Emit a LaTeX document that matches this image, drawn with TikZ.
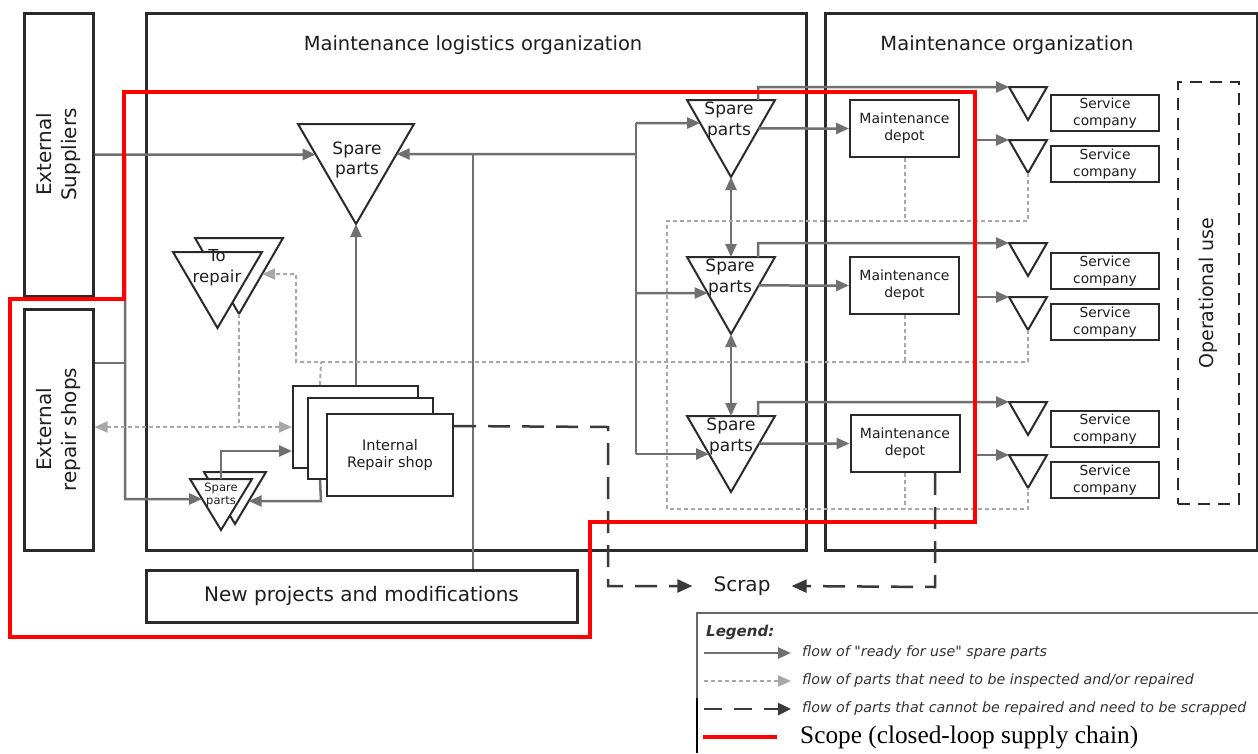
\documentclass[tikz,border=0pt]{standalone}
\usepackage{fontspec}
\setmainfont{DejaVu Sans}
\newfontfamily\scopefont{Liberation Serif}
\newfontfamily\legfont{DejaVu Sans}[Ligatures=ResetAll]
\usetikzlibrary{arrows.meta,calc}
\definecolor{boxc}{HTML}{2A2A2A}
\definecolor{flowc}{HTML}{707070}
\definecolor{inspc}{HTML}{A8A8A8}
\definecolor{scrapc}{HTML}{3A3A3A}
\definecolor{txtc}{HTML}{1F1F1F}
\definecolor{legc}{HTML}{333333}
\definecolor{scoper}{HTML}{FF0000}
\newcommand\fsz[2]{\fontsize{#1}{#2}\selectfont}
\newcommand\trimk[5]{%
  \coordinate (#1-l) at (#2,#4);
  \coordinate (#1-r) at (#3,#4);
  \coordinate (#1-b) at ({(#2+#3)/2},#5);
  \draw[tri] (#1-l) -- (#1-r) -- (#1-b) -- cycle;
}
\tikzset{
  bigbox/.style={draw=boxc, line width=3pt, inner sep=0pt, fill=white},
  smallbox/.style={draw=boxc, line width=2pt, inner sep=0pt, fill=white, text=txtc, align=center},
  tri/.style={draw=boxc, line width=2pt, fill=white, line join=miter},
  lbl/.style={text=txtc, align=center, inner sep=0pt},
  tip/.style={-{Triangle[length=13pt,width=11pt]}},
  flowline/.style={draw=flowc, line width=2.5pt},
  flow/.style={flowline, tip},
  flowdbl/.style={flowline, {Triangle[length=13pt,width=11pt]}-{Triangle[length=13pt,width=11pt]}},
  insp/.style={draw=inspc, line width=2pt, dash pattern=on 4pt off 3pt},
  inspar/.style={insp, -{Triangle[length=13pt,width=11pt]}},
  inspdbl/.style={insp, {Triangle[length=13pt,width=11pt]}-{Triangle[length=13pt,width=11pt]}},
  scrap/.style={draw=scrapc, line width=2.5pt, dash pattern=on 22pt off 12pt},
  scrapar/.style={scrap, -{Triangle[length=15pt,width=13pt]}},
  scope/.style={draw=scoper, line width=3.5pt, line join=miter},
  legtxt/.style={anchor=west, inner sep=0pt, text=legc, font=\legfont\fsz{14.2}{16}\itshape},
}
\begin{document}
\begin{tikzpicture}[x=1pt,y=-1pt]
\useasboundingbox (0,0) rectangle (1258,753);
\fill[white] (0,0) rectangle (1258,753);

% ---------- large boxes ----------
\node[bigbox, minimum width=69pt, minimum height=283pt] (sup) at (58.5,154.5) {};
\node[lbl, rotate=90, font=\fsz{20}{25}] (supt) at (sup) {External\\Suppliers};
\node[bigbox, minimum width=69pt, minimum height=241pt] (ers) at (58.5,429.5) {};
\node[lbl, rotate=90, font=\fsz{20}{25}] (erst) at (ers) {External\\repair shops};
\node[bigbox, minimum width=660pt, minimum height=537pt] (mlo) at (476,281.5) {};
\node[lbl, font=\fsz{19.5}{24}] (mlot) at (473,45) {Maintenance logistics organization};
\node[bigbox, minimum width=432pt, minimum height=537pt] (mo) at (1041,281.5) {};
\node[lbl, font=\fsz{19.5}{24}] (mot) at (1007,45) {Maintenance organization};
\node[bigbox, minimum width=431pt, minimum height=52pt, text=txtc, font=\fsz{20}{24}] (npm) at (361.5,596) {New projects and modifications};
\node[draw=boxc, line width=2pt, dash pattern=on 12pt off 8pt, minimum width=61pt, minimum height=422pt, inner sep=0pt] (ou) at (1208.5,293) {};
\node[lbl, rotate=90, font=\fsz{19}{24}] (out) at (ou) {Operational use};

% ---------- triangles ----------
\trimk{SP0}{298}{414}{124}{224}
\node[lbl, font=\fsz{17}{20}] (SP0t) at (357,160) {Spare\\parts};
\trimk{TRb}{195}{283}{238}{314}
\trimk{TRf}{173}{262}{252}{328}
\node[lbl, font=\fsz{16.5}{21}] (TRt) at (217,268) {To\\repair};
\trimk{SSb}{204}{266}{472}{524}
\trimk{SSf}{190}{252}{479}{530}
\node[lbl, font=\fsz{11.5}{13}] (SSt) at (221,495) {Spare\\parts};
\trimk{RS1}{687}{775}{100}{177}
\trimk{RS2}{687}{775}{257}{334}
\trimk{RS3}{687}{775}{416}{492}
\node[lbl, font=\fsz{17}{21}] (RS1t) at (729,120) {Spare\\parts};
\node[lbl, font=\fsz{17}{21}] (RS2t) at (730,277) {Spare\\parts};
\node[lbl, font=\fsz{17}{21}] (RS3t) at (731,436) {Spare\\parts};
\trimk{ST1}{1009}{1047}{87}{120}
\trimk{ST2}{1009}{1047}{140}{173}
\trimk{ST3}{1009}{1047}{243}{276}
\trimk{ST4}{1009}{1047}{297}{330}
\trimk{ST5}{1009}{1047}{402}{435}
\trimk{ST6}{1009}{1047}{455}{488}

% ---------- small boxes ----------
\node[smallbox, minimum width=125pt, minimum height=82pt] (rs1) at (355.5,427) {};
\node[smallbox, minimum width=125pt, minimum height=81pt] (rs2) at (370.5,438.5) {};
\node[smallbox, minimum width=126pt, minimum height=82pt, font=\fsz{14.5}{17}] (rs3) at (390,455) {Internal\\Repair shop};
\node[smallbox, minimum width=109pt, minimum height=57pt, font=\fsz{14}{17}] (dep1) at (904.5,128.5) {Maintenance\\depot};
\node[smallbox, minimum width=109pt, minimum height=57pt, font=\fsz{14}{17}] (dep2) at (904.5,285.5) {Maintenance\\depot};
\node[smallbox, minimum width=109pt, minimum height=57pt, font=\fsz{14}{17}] (dep3) at (905,443.5) {Maintenance\\depot};
\foreach \i/\y in {1/113,2/164,3/271,4/322,5/429,6/480}{
  \node[smallbox, minimum width=108pt, minimum height=36pt, font=\fsz{13.8}{17}] (sc\i) at (1105,\y) {Service\\company};
}

% ---------- helper coordinates ----------
\coordinate (dl1) at (0,221);
\coordinate (dl2) at (0,362);
\coordinate (dl3) at (0,509);
\coordinate (yss) at (0,451);
\coordinate (yer) at (0,363);
\coordinate (trk0) at (636,154);
\coordinate (trk1) at (636,123);
\coordinate (trk2) at (636,293);
\coordinate (trk3) at (636,454);
\coordinate (nj) at (473,154);
\coordinate (xj) at (125,154.5);

% ---------- ready-for-use flows ----------
\draw[flow] (sup.east) -- ($(SP0-l)!0.305!(SP0-b)$);
\draw[flow] (trk0) -- ($(SP0-r)!0.30!(SP0-b)$);
\draw[flowline] (nj |- npm.north) -- (nj);
\draw[flowline] (trk1) -- (trk3);
\draw[flow] (trk1) -- ($(RS1-l)!0.299!(RS1-b)$);
\draw[flow] (trk2) -- ($(RS2-l)!0.4675!(RS2-b)$);
\draw[flow] (trk3) -- ($(RS3-l)!0.5!(RS3-b)$);
\draw[flow] (SP0-b |- rs1.north) -- (SP0-b);
\draw[flowline] (ers.east |- yer) -- (xj |- yer);
\draw[flow] (xj) -- (125,499) -- ($(SSf-l)!0.392!(SSf-b)$);
\draw[flow] ($(SSf-l)!0.5!(SSf-r)$) -- (221,451) -- (rs1.west |- yss);
\draw[flow] ($(rs2.south west)+(13,0)$) -- (321,501) -- ($(SSb-r)!0.558!(SSb-b)$);
\draw[flowdbl] (RS1-b) -- ($(RS2-l)!0.5!(RS2-r)$);
\draw[flowdbl] (RS2-b) -- ($(RS3-l)!0.5!(RS3-r)$);
\draw[flow] ($(RS1-r)!0.37!(RS1-b)$) -- (dep1.west);
\draw[flow] ($(RS2-r)!0.37!(RS2-b)$) -- (dep2.west);
\draw[flow] ($(RS3-r)!0.362!(RS3-b)$) -- (dep3.west);
\draw[flow] ($(RS1-l)!0.807!(RS1-r)$) -- (758,87) -- (ST1-l);
\draw[flow] ($(RS2-l)!0.807!(RS2-r)$) -- (758,243) -- (ST3-l);
\draw[flow] ($(RS3-l)!0.807!(RS3-r)$) -- (758,402) -- (ST5-l);
\draw[flow] ($(ST2-l)+(-33,0)$) -- (ST2-l);
\draw[flow] ($(ST4-l)+(-33,0)$) -- (ST4-l);
\draw[flow] ($(ST6-l)+(-33,0)$) -- (ST6-l);

% ---------- inspection / repair flows ----------
\draw[insp] (ST2-b) -- (ST2-b |- dl1) -- (667,221) -- (667,509) -- (ST6-b |- dl3) -- (ST6-b);
\draw[insp] (dep1.south) -- (dep1.south |- dl1);
\draw[insp] (dep2.south) -- (dep2.south |- dl2);
\draw[insp] (dep3.south) -- (dep3.south |- dl3);
\draw[inspar] (ST4-b) -- (ST4-b |- dl2) -- (296,362) -- (296,274) -- ($(TRb-r)!0.474!(TRb-b)$);
\draw[insp] ($(rs1.north west)+(28,0)$) -- (321,362);
\draw[insp] (TRb-b) -- (TRb-b |- rs1.west);
\draw[inspdbl] (ers.east |- rs1.west) -- (rs1.west);

% ---------- scrap ----------
\node[lbl, font=\fsz{20}{24}, inner xsep=21pt] (scrapn) at (742,586) {Scrap};
\draw[scrapar] ($(rs3.north east)+(0,13)$) -- (608,427) -- (608,586) -- (scrapn.west);
\draw[scrapar] ($(dep3.south)+(30,0)$) -- ($(dep3.south)+(30,114)$) -- (scrapn.east);

% ---------- scope ----------
\draw[scope] (124,92) -- (975,92) -- (975,522) -- (590,522) -- (590,637) -- (10,637) -- (10,299) -- (124,299) -- cycle;

% ---------- legend ----------
\draw[draw=black!60, line width=1.5pt] (697,753) -- (697,613) -- (1258,613);
\draw[draw=black, line width=2.5pt] (697,698) -- (697,753);
\node[anchor=west, inner sep=0pt, text=legc, font=\fsz{15}{18}\bfseries\itshape] (legt) at (706,632) {Legend:};
\node[legtxt] (lg1) at (802,653) {flow of "ready for use" spare parts};
\node[legtxt] (lg2) at (802,681) {flow of parts that need to be inspected and/or repaired};
\node[legtxt] (lg3) at (802,709) {flow of parts that cannot be repaired and need to be scrapped};
\node[anchor=west, inner sep=0pt, text=black, font=\scopefont\fsz{25.3}{28}] (lg4) at (800,737) {Scope (closed-loop supply chain)};
\draw[flow] ($(lg1.west)+(-98,0)$) -- ($(lg1.west)+(-11,0)$);
\draw[inspar] ($(lg2.west)+(-98,0)$) -- ($(lg2.west)+(-11,0)$);
\draw[scrap, dash pattern=on 18pt off 12pt, -{Triangle[length=13pt,width=12pt]}] ($(lg3.west)+(-98,0)$) -- ($(lg3.west)+(-11,0)$);
\draw[scope, line width=4pt] ($(lg4.west)+(-97,0)$) -- ($(lg4.west)+(-23,0)$);
\end{tikzpicture}
\end{document}
